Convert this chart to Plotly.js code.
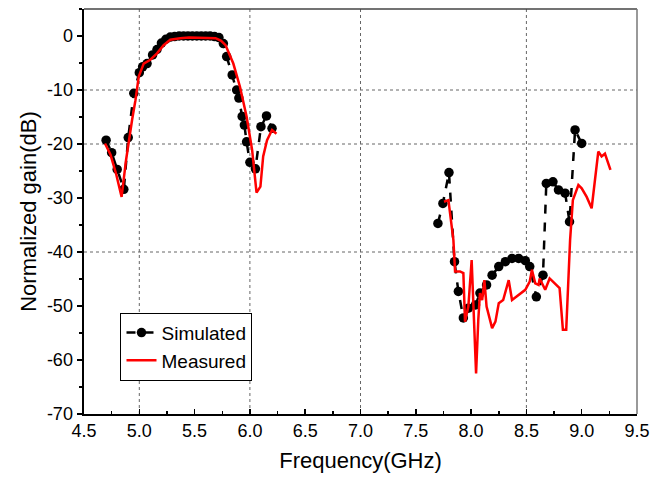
<!DOCTYPE html>
<html>
<head>
<meta charset="utf-8">
<script src="https://cdn.plot.ly/plotly-3.0.1.min.js"></script>
<style>html,body{margin:0;padding:0;background:#fff;}#chart{width:652px;height:481px;}</style>
</head>
<body>
<div id="chart"></div>
<script>
// Simulated, lower band
const simLowX = [4.70,4.75,4.80,4.86,4.90,4.95,5.00,5.03,5.07,5.12,5.16,5.20,5.24,5.28,5.32,5.36,5.40,5.44,5.48,5.52,5.56,5.60,5.64,5.68,5.72,5.76,5.79,5.84,5.88,5.90,5.93,5.95,5.97,6.00,6.05,6.10,6.15,6.20];
const simLowY = [-19.3,-21.6,-24.7,-28.4,-18.8,-10.6,-6.8,-5.7,-5.1,-3.5,-2.5,-1.3,-0.6,-0.2,-0.1,0,0,0,0,0,0,0,0,-0.1,-0.3,-1.4,-3.8,-7.2,-10.0,-11.5,-14.9,-16.5,-19.6,-23.4,-24.6,-16.8,-14.8,-17.1];
// Simulated, upper band
const simHighX = [7.70,7.745,7.80,7.85,7.885,7.93,7.975,8.04,8.08,8.14,8.19,8.25,8.31,8.37,8.43,8.49,8.53,8.59,8.65,8.68,8.74,8.79,8.85,8.89,8.94,9.00];
const simHighY = [-34.7,-31.0,-25.3,-41.8,-47.3,-52.2,-50.4,-49.8,-47.6,-46.1,-44.3,-42.7,-41.8,-41.2,-41.2,-41.6,-42.7,-48.3,-44.3,-27.3,-27.0,-28.5,-29.1,-34.4,-17.4,-19.9];
// Measured, lower band
const measLowX = [4.69,4.74,4.79,4.84,4.88,4.905,4.935,4.965,4.995,5.04,5.10,5.16,5.22,5.28,5.37,5.45,5.55,5.63,5.69,5.74,5.78,5.85,5.91,5.97,6.02,6.06,6.095,6.12,6.155,6.20,6.24];
const measLowY = [-19.9,-22.0,-25.5,-29.8,-23.0,-19.3,-15.5,-11.9,-7.5,-5.1,-4.4,-3.2,-1.7,-0.7,-0.4,-0.3,-0.3,-0.3,-0.4,-0.9,-1.7,-5.1,-9.4,-14.9,-21.1,-29.0,-27.9,-22.3,-19.3,-17.4,-18.1];
// Measured, upper band
const measHighX = [7.755,7.795,7.84,7.855,7.90,7.93,7.945,7.975,8.005,8.02,8.045,8.065,8.08,8.10,8.12,8.14,8.19,8.22,8.25,8.29,8.34,8.37,8.43,8.49,8.53,8.55,8.58,8.61,8.62,8.67,8.71,8.76,8.80,8.83,8.86,8.895,8.92,8.97,9.00,9.045,9.09,9.15,9.18,9.21,9.26];
const measHighY = [-30.7,-30.4,-37.8,-43.6,-43.6,-43.9,-52.9,-50.1,-41.5,-50.1,-62.5,-52.6,-47.6,-48.9,-45.2,-50.1,-54.1,-52.9,-49.5,-48.9,-45.2,-48.9,-48.0,-47.0,-45.5,-43.3,-45.8,-46.1,-44.9,-47.0,-44.9,-45.8,-46.7,-54.4,-54.4,-37.8,-30.4,-27.6,-28.2,-29.8,-31.9,-21.4,-22.3,-21.8,-24.8];

// Tick labels
const xTickVals = [4.5,5.0,5.5,6.0,6.5,7.0,7.5,8.0,8.5,9.0,9.5];
const xTickText = ['4.5','5.0','5.5','6.0','6.5','7.0','7.5','8.0','8.5','9.0','9.5'];
const yTickVals = [0,-10,-20,-30,-40,-50,-60,-70];
const yTickText = ['0','-10','-20','-30','-40','-50','-60','-70'];
// Irregular dotted grid of the original
const xGrid = [5.0,6.0,7.0,8.5];
const yGrid = [-10,-20,-40];

const FONT = 'Liberation Sans, Arial, sans-serif';

const simStyle = {mode:'lines+markers', line:{color:'#000', width:2.5, dash:'dash'}, marker:{color:'#000', size:9.5, symbol:'circle'}};
const measStyle = {mode:'lines', line:{color:'#ff0000', width:2.5}};

const traces = [
  Object.assign({x: simLowX, y: simLowY, name:'Simulated', legendgroup:'sim', showlegend:true}, simStyle),
  Object.assign({x: simHighX, y: simHighY, name:'Simulated', legendgroup:'sim', showlegend:false}, simStyle),
  Object.assign({x: measLowX, y: measLowY, name:'Measured', legendgroup:'meas', showlegend:true}, measStyle),
  Object.assign({x: measHighX, y: measHighY, name:'Measured', legendgroup:'meas', showlegend:false}, measStyle)
];

const shapes = [];
xGrid.forEach(v => shapes.push({type:'line', xref:'x', yref:'paper', x0:v, x1:v, y0:0, y1:1, line:{color:'#666', width:1, dash:'dot'}, layer:'below'}));
yGrid.forEach(v => shapes.push({type:'line', xref:'paper', yref:'y', x0:0, x1:1, y0:v, y1:v, line:{color:'#666', width:1, dash:'dot'}, layer:'below'}));
shapes.push({type:'line', xref:'paper', yref:'paper', x0:0, x1:1, y0:1, y1:1, line:{color:'#444', width:1.5}});
shapes.push({type:'line', xref:'paper', yref:'paper', x0:1, x1:1, y0:0, y1:1, line:{color:'#777', width:1.5}});

const layout = {
  width:652, height:481,
  margin:{l:84, r:15, t:9, b:67},
  paper_bgcolor:'#fff', plot_bgcolor:'#fff',
  font:{family:FONT, color:'#000', size:18},
  showlegend:true,
  legend:{x:0.066, y:0.25, xanchor:'left', yanchor:'top', bgcolor:'#fff', bordercolor:'#000', borderwidth:1, font:{family:FONT, size:19, color:'#000'}, tracegroupgap:0},
  xaxis:{
    range:[4.5,9.5], tickmode:'array', tickvals:xTickVals, ticktext:xTickText,
    ticks:'inside', ticklen:5, tickwidth:1.5, tickcolor:'#000',
    showline:true, linecolor:'#000', linewidth:1.5, showgrid:false, zeroline:false,
    minor:{tickmode:'linear', tick0:4.75, dtick:0.5, ticks:'inside', ticklen:3, tickwidth:1.5, tickcolor:'#000', showgrid:false},
    tickfont:{family:FONT, size:18, color:'#000'},
    title:{text:'Frequency(GHz)', font:{family:FONT, size:22, color:'#000'}, standoff:12}
  },
  yaxis:{
    range:[-70,5], tickmode:'array', tickvals:yTickVals, ticktext:yTickText,
    ticks:'outside', ticklen:5, tickwidth:1.5, tickcolor:'#000',
    showline:true, linecolor:'#000', linewidth:2.5, showgrid:false, zeroline:false,
    minor:{tickmode:'linear', tick0:-5, dtick:10, ticks:'outside', ticklen:3, tickwidth:1.5, tickcolor:'#000', showgrid:false},
    tickfont:{family:FONT, size:18, color:'#000'},
    title:{text:'Normalized gain(dB)', font:{family:FONT, size:22, color:'#000'}, standoff:4}
  },
  shapes: shapes
};

Plotly.newPlot('chart', traces, layout, {staticPlot:true, displayModeBar:false});
</script>
</body>
</html>
